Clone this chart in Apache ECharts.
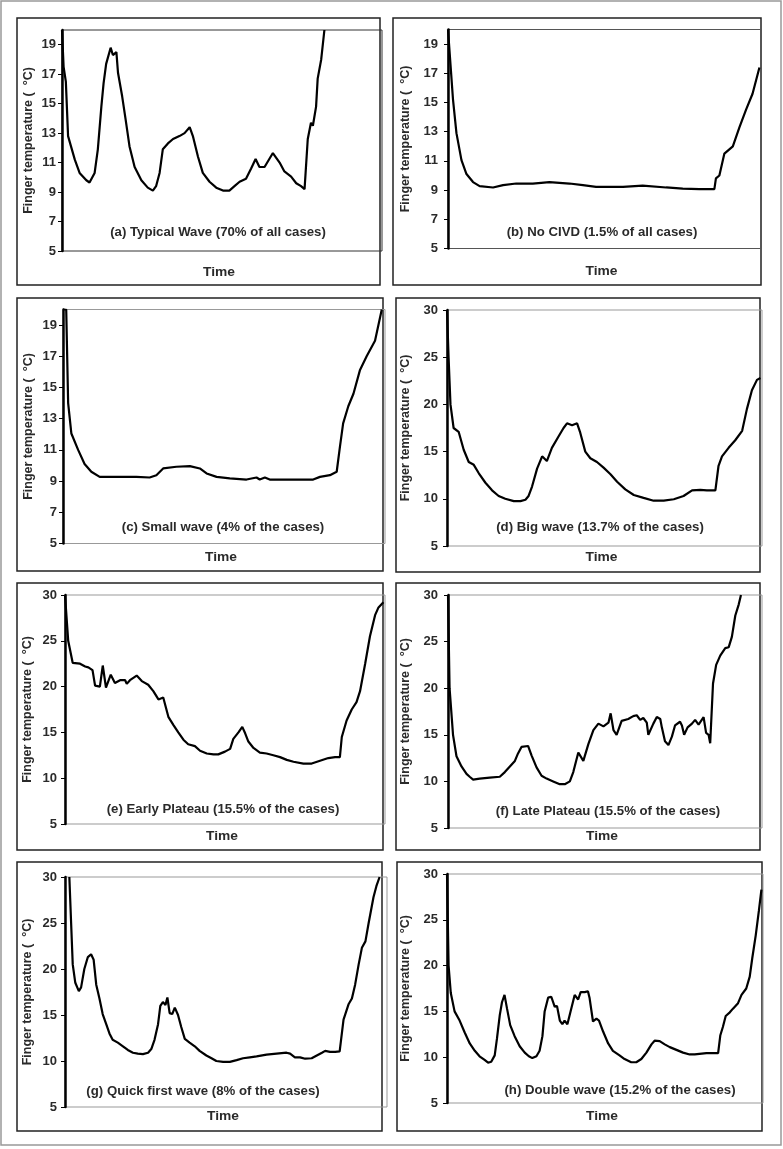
<!DOCTYPE html>
<html><head><meta charset="utf-8">
<script src="https://cdn.jsdelivr.net/npm/echarts@6/dist/echarts.min.js"></script>
<style>html,body{margin:0;padding:0;background:#fff}#c{width:783px;height:1149px}</style>
</head><body><div id="c"></div>
<script>
// ---- data (time as % of recording, temperature in °C) ----
const panelLabels = [
  "(a) Typical Wave (70% of all cases)",
  "(b) No CIVD (1.5% of all cases)",
  "(c) Small wave (4% of the cases)",
  "(d) Big wave (13.7% of the cases)",
  "(e) Early Plateau (15.5% of the cases)",
  "(f) Late Plateau (15.5% of the cases)",
  "(g) Quick first wave (8% of the cases)",
  "(h) Double wave (15.2% of the cases)"
];
const yTitle = "Finger temperature (  °C)";
const xTitle = "Time";
const yRangeSmall = [5, 20, 2];   // min, max, interval
const yRangeLarge = [5, 30, 5];

const tA = [0,0.5,1.2,1.9,4.0,5.5,7.6,8.6,10.2,11.2,12.3,13.0,13.8,15.2,15.9,17.0,17.5,18.8,19.9,21.1,22.7,24.8,26.8,28.4,29.4,30.5,31.5,33.1,34.7,36.7,38.3,39.9,40.9,42.5,44.0,46.1,48.2,50.3,52.3,53.9,55.5,57.5,59.1,60.5,61.7,63.3,65.9,68.0,69.5,71.6,73.2,74.7,75.8,76.8,77.8,78.4,79.4,79.9,81.0,82.0];
const vA = [20,17.5,16.5,12.8,11.2,10.3,9.8,9.65,10.3,11.9,14.8,16.4,17.7,18.8,18.3,18.5,17.1,15.5,13.9,12.1,10.7,9.8,9.3,9.1,9.4,10.3,11.9,12.3,12.6,12.8,13.0,13.4,12.8,11.4,10.3,9.7,9.3,9.1,9.1,9.4,9.7,9.9,10.6,11.25,10.7,10.7,11.65,11.0,10.4,10.05,9.6,9.4,9.2,12.6,13.7,13.5,14.8,16.7,18.0,20];

const tB = [0,0.5,1.6,2.7,4.3,5.9,8.0,10.1,14.4,17.6,21.8,27.1,32.4,38.8,43.1,47.3,55.9,62.2,69.7,75.0,80.3,85.1,85.6,86.7,88.3,91.0,93.1,95.2,97.3,99.5];
const vB = [20,20,15.2,12.9,11.05,10.1,9.55,9.27,9.18,9.34,9.45,9.45,9.55,9.45,9.34,9.22,9.22,9.3,9.18,9.1,9.07,9.07,9.8,10.0,11.5,12.0,13.3,14.5,15.6,17.4];

const tC = [0,1.0,1.6,2.6,4.7,6.7,8.8,11.4,16.6,22.8,26.9,29.0,31.1,35.2,39.4,42.5,44.6,47.7,51.8,57.0,60.1,61.1,62.7,64.2,73.6,77.7,79.8,82.9,85.0,86.0,87.0,88.6,90.2,92.2,94.3,96.9,99.0];
const vC = [20,20,14,12.05,11.0,10.1,9.6,9.27,9.27,9.27,9.23,9.38,9.81,9.92,9.96,9.81,9.49,9.27,9.17,9.1,9.23,9.1,9.23,9.1,9.1,9.1,9.27,9.38,9.6,11.2,12.7,13.8,14.6,16.1,17.0,18.0,20];

const tD = [0,0.5,1.1,2.1,3.7,5.3,6.9,8.5,10.1,12.2,14.3,16.4,18.5,21.2,23.3,24.9,25.9,27.0,28.6,30.2,31.7,33.3,35.4,37.0,38.1,39.7,41.3,42.3,43.9,45.5,47.6,49.7,51.9,54.0,56.6,59.3,62.4,65.6,68.8,72.0,75.1,77.8,80.4,82.5,85.2,86.2,87.3,89.4,91.5,93.7,95.2,96.8,98.4,99.5];
const vD = [30,25,20,17.5,17.1,15.2,13.9,13.6,12.7,11.7,10.9,10.3,10.0,9.75,9.75,9.9,10.3,11.3,13.2,14.5,14.0,15.4,16.6,17.5,18.0,17.8,18.0,17.0,15.0,14.3,13.9,13.3,12.6,11.8,11.0,10.4,10.1,9.8,9.8,9.95,10.3,10.9,10.95,10.9,10.9,13.5,14.5,15.4,16.2,17.2,19.5,21.5,22.6,22.8];

const tE = [0,0.5,1.0,2.4,4.7,6.3,7.3,8.6,9.4,10.9,11.8,12.8,14.3,15.6,17.2,18.8,19.3,20.3,22.4,24.0,26.0,27.6,29.2,30.7,32.3,33.9,35.4,37.0,38.5,40.6,42.2,44.3,46.4,47.9,50.0,51.6,52.6,54.2,55.4,56.3,57.3,58.9,60.9,63.0,65.1,67.2,69.3,71.4,74.5,77.1,79.7,82.3,84.4,85.9,86.5,88.0,89.6,91.1,92.2,93.8,95.3,96.9,97.9,99.5];
const vE = [30,30,25,22.6,22.5,22.2,22.1,21.8,20.1,20.0,22.3,19.9,21.3,20.4,20.7,20.7,20.3,20.7,21.2,20.6,20.2,19.5,18.6,18.8,16.7,15.8,15.0,14.2,13.7,13.5,13.0,12.7,12.6,12.6,12.9,13.2,14.3,15.0,15.6,14.9,14.0,13.3,12.8,12.7,12.5,12.3,12.0,11.8,11.6,11.6,11.9,12.2,12.3,12.3,14.5,16.3,17.5,18.3,19.5,22.5,25.5,27.8,28.6,29.2];

const tF = [0,0.5,1.6,2.7,4.3,5.9,6.9,8.0,10.1,13.3,16.5,18.1,19.7,21.3,22.3,23.4,25.5,26.6,28.2,29.8,31.4,33.5,35.6,37.2,38.8,39.9,41.5,43.1,44.7,46.3,47.9,49.5,51.1,51.8,52.7,53.7,55.3,57.4,59.0,60.1,61.2,62.2,63.3,63.8,65.4,66.5,67.6,68.1,69.1,70.2,71.3,72.3,73.9,74.5,75.2,76.3,77.7,78.7,79.8,81.4,82.2,83.0,83.5,84.4,85.4,86.7,88.3,89.4,90.4,91.5,92.6,93.3];
const vF = [30,20,15,12.7,11.6,10.8,10.5,10.2,10.3,10.4,10.5,11.0,11.6,12.2,13.0,13.7,13.8,12.8,11.5,10.6,10.3,10.0,9.7,9.7,10.0,11.0,13.1,12.2,14.0,15.5,16.2,15.9,16.3,17.3,15.5,15.0,16.5,16.7,17.0,17.1,16.6,16.8,16.3,15.0,16.2,16.9,16.7,15.8,14.3,13.9,14.8,16.0,16.4,16.0,15.0,15.8,16.2,16.6,16.1,16.9,15.2,15.0,14.1,20.5,22.5,23.5,24.3,24.4,25.5,27.8,29.0,30];

const tG = [1.35,1.9,2.4,3.2,4.3,5.0,6.0,7.1,8.1,8.9,9.7,10.7,11.7,12.8,13.8,14.8,16.4,18.0,19.5,21.1,22.6,24.2,25.8,26.8,27.8,28.9,29.6,30.4,31.2,31.8,32.5,33.3,34.1,35.1,36.1,37.2,38.7,40.3,41.8,43.9,45.5,47.0,49.1,51.2,53.3,55.3,57.4,59.5,62.6,65.7,68.8,69.9,71.4,73.0,74.6,76.6,78.2,79.8,80.8,82.3,83.9,85.3,86.5,88.1,89.1,90.1,91.2,92.2,93.3,94.3,95.8,96.7,97.7];
const vG = [30,25,20.5,18.5,17.6,18.0,20.0,21.3,21.6,21.0,18.3,16.8,15.1,14.0,13.0,12.3,12.0,11.6,11.2,10.9,10.8,10.75,10.9,11.3,12.3,14.0,16.0,16.4,16.1,16.9,15.2,15.1,15.8,15.0,13.7,12.4,12.0,11.6,11.1,10.6,10.3,10.0,9.9,9.9,10.1,10.3,10.4,10.5,10.7,10.8,10.9,10.8,10.4,10.4,10.25,10.3,10.6,10.9,11.1,11.0,11.0,11.05,14.5,16.2,16.8,18.3,20.5,22.3,23.0,25.0,27.8,29.0,30];

const tH = [0,0.5,1.2,2.4,4.0,5.6,7.2,8.8,10.3,11.9,13.0,14.0,15.1,15.8,16.7,17.4,18.2,19.0,20.0,21.4,23.0,24.6,25.9,27.0,28.3,29.3,30.2,30.9,32.0,33.0,34.1,34.8,35.7,36.5,37.2,38.1,39.1,40.4,41.5,42.3,43.6,44.6,45.1,46.2,47.3,48.1,49.4,51.0,52.5,54.6,56.2,58.3,59.9,61.5,63.1,64.7,65.7,67.3,68.9,70.5,72.6,74.7,76.8,78.4,78.9,82.1,85.8,86.5,87.3,88.2,89.5,90.5,92.1,93.2,94.7,95.8,96.6,97.7,98.7,99.5];
const vH = [30,20,17,15.0,14.0,12.7,11.5,10.7,10.1,9.7,9.4,9.5,10.2,12.0,14.6,16.0,16.8,15.3,13.5,12.3,11.2,10.5,10.1,9.9,10.1,10.7,12.3,15.0,16.5,16.6,15.5,15.6,14.0,13.6,14.0,13.6,15.0,16.8,16.3,17.1,17.1,17.2,16.5,13.9,14.2,14.0,12.8,11.5,10.7,10.2,9.8,9.45,9.45,9.8,10.5,11.4,11.8,11.75,11.4,11.1,10.8,10.5,10.3,10.3,10.45,10.45,10.45,12.4,13.3,14.5,14.9,15.3,15.9,16.8,17.5,18.8,20.8,23.3,26.0,28.3];

const times = [tA,tB,tC,tD,tE,tF,tG,tH];
const temps = [vA,vB,vC,vD,vE,vF,vG,vH];
const ranges = [yRangeSmall,yRangeSmall,yRangeSmall,yRangeLarge,yRangeLarge,yRangeLarge,yRangeLarge,yRangeLarge];

// ---- layout (pixels) ----
const grids = [
  {left:62, top:30, width:320, height:221},
  {left:448, top:29.5, width:313, height:219},
  {left:63, top:309.5, width:322, height:234},
  {left:447, top:310, width:315, height:236},
  {left:65, top:595, width:320, height:229},
  {left:448, top:595, width:314, height:233},
  {left:65, top:877, width:322, height:230},
  {left:447, top:874, width:316, height:229}
];
const boxes = [
  [17,18,363,267],[393,18,368,267],
  [17,298,366,273],[396,298,364,274],
  [17,583,366,267],[396,583,364,267],
  [17,862,365,269],[397,862,365,269]
];
const nameGaps = [27,35.5,28,34.5,31,35.5,31,34.5];
const labelMargins = [6,10,6,9,8,10,8,9];
const timeY = [273,272,558,558,837,837,1117,1117];
const labelPos = [[218,233],[602,233],[223,528],[600,528],[223,810],[608,812],[203,1092],[620,1091]];
const borderCols = ['#333','#555','#999','#999','#999','#999','#999','#999'];

const FONT = "'Liberation Sans', Arial, sans-serif";
const option = {
  backgroundColor:'#fff', animation:false,
  grid: grids.map((g,i)=>Object.assign({show:true, borderColor:borderCols[i], borderWidth:1, backgroundColor:'transparent'}, g)),
  xAxis: grids.map((g,i)=>({gridIndex:i, type:'value', min:0, max:100,
    axisLine:{show:false}, axisTick:{show:false}, axisLabel:{show:false}, splitLine:{show:false}})),
  yAxis: grids.map((g,i)=>({gridIndex:i, type:'value', min:ranges[i][0], max:ranges[i][1], interval:ranges[i][2],
    name:yTitle, nameLocation:'middle', nameRotate:90, nameGap:nameGaps[i],
    nameTextStyle:{fontFamily:FONT, fontWeight:'bold', fontSize:12.5, color:'#2a2a2a'},
    axisLine:{show:true, lineStyle:{color:'#000', width:2.5}},
    axisTick:{show:true, length:4, lineStyle:{color:'#000', width:1}},
    axisLabel:{margin:labelMargins[i], fontFamily:FONT, fontWeight:'bold', fontSize:13, color:'#2a2a2a', showMaxLabel: ranges[i][1] % ranges[i][2] === ranges[i][0] % ranges[i][2]},
    splitLine:{show:false}})),
  series: times.map((t,i)=>({type:'line', xAxisIndex:i, yAxisIndex:i, showSymbol:false, symbol:'none',
    data: t.map((x,k)=>[x, temps[i][k]]), lineStyle:{color:'#000', width:2.2}, clip:true})),
  graphic: [
    {type:'rect', shape:{x:1,y:1,width:780,height:1144}, style:{fill:null, stroke:'#999', lineWidth:1.5}, z:-1}
  ].concat(boxes.map(b=>({type:'rect', shape:{x:b[0],y:b[1],width:b[2],height:b[3]}, style:{fill:null, stroke:'#222', lineWidth:1.5}, z:-1})))
   .concat(grids.map((g,i)=>({type:'text', x:g.left+g.width/2 - 3, y:timeY[i], scaleX:1.15, style:{text:xTitle, font:"bold 12px "+FONT, fill:'#2a2a2a', textAlign:'center', textVerticalAlign:'middle'}})))
   .concat(labelPos.map((p,i)=>({type:'text', x:p[0], y:p[1], scaleX:1.1, style:{text:panelLabels[i], font:"bold 12px "+FONT, fill:'#2a2a2a', textAlign:'center', textVerticalAlign:'middle'}})))
};
const chart = echarts.init(document.getElementById('c'), null, {renderer:'canvas'});
chart.setOption(option);
</script></body></html>
